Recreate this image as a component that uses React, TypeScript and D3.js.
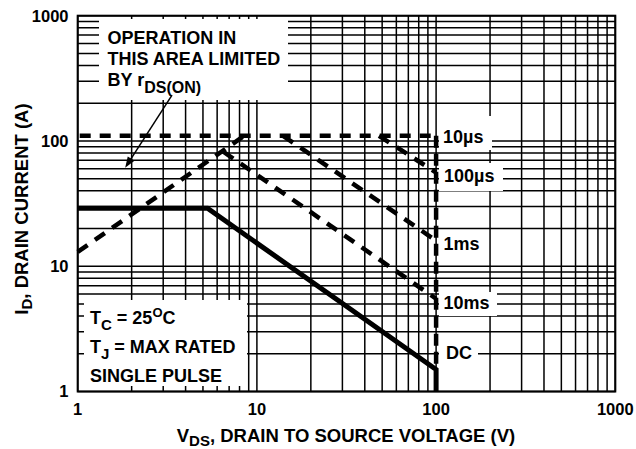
import React from 'react';
import * as d3 from 'd3';

// log-log SOA chart
const X_TICKS = [1, 10, 100, 1000];
const Y_TICKS = [1, 10, 100, 1000];

// [VDS (V), ID (A)]
const RDS_LIMIT: [number, number][] = [[1, 13], [8.5, 110]];
const PULSE_10US: [number, number][] = [[1, 110], [100, 110]];
const PULSE_100US: [number, number][] = [[48, 110], [100, 56]];
const PULSE_1MS: [number, number][] = [[14, 110], [100, 16]];
const PULSE_10MS: [number, number][] = [[6.5, 82], [100, 5.5]];
const BVDSS_DASHED: [number, number][] = [[100, 110], [100, 1.5]];
const DC_LINE: [number, number][] = [[1, 29], [5.3, 29], [100, 1.5], [100, 1]];

const CURVE_LABELS = ['10µs', '100µs', '1ms', '10ms', 'DC'];
const ARROW_FROM: [number, number] = [3.36, 232];
const ARROW_TO: [number, number] = [1.84, 61];

const W = 636;
const H = 449;
const FONT = '"Liberation Sans", Arial, Helvetica, sans-serif';

export default function App() {
  const x = d3.scaleLog().domain([1, 1000]).range([77.7, 615.3]);
  const y = d3.scaleLog().domain([1, 1000]).range([391.5, 15.7]);
  const gridX = x.ticks();
  const gridY = y.ticks();
  const line = d3.line<[number, number]>().x(d => x(d[0])).y(d => y(d[1]));

  // label boxes at the right of the 100 V line (layout only)
  const labelBoxes = [
    { tx: 443, ty: 142.5, x0: 439, x1: 492, y0: 116, y1: 150 },
    { tx: 444, ty: 182, x0: 439, x1: 503, y0: 163, y1: 191 },
    { tx: 443.5, ty: 250, x0: 439, x1: 482, y0: 233, y1: 257 },
    { tx: 443.5, ty: 309, x0: 439, x1: 497, y0: 292, y1: 316 },
    { tx: 446, ty: 358.5, x0: 439, x1: 478, y0: 342, y1: 365 },
  ];

  const a0 = [x(ARROW_FROM[0]), y(ARROW_FROM[1])];
  const a1 = [x(ARROW_TO[0]), y(ARROW_TO[1])];
  const ang = Math.atan2(a1[1] - a0[1], a1[0] - a0[0]);
  const hl = 11, hw = 4;
  const head = [
    [a1[0], a1[1]],
    [a1[0] - hl * Math.cos(ang) + hw * Math.sin(ang), a1[1] - hl * Math.sin(ang) - hw * Math.cos(ang)],
    [a1[0] - hl * Math.cos(ang) - hw * Math.sin(ang), a1[1] - hl * Math.sin(ang) + hw * Math.cos(ang)],
  ];

  return (
    <div style={{ position: 'absolute', left: 0, top: 0 }}>
      <svg width={W} height={H} viewBox={`0 0 ${W} ${H}`} style={{ display: 'block' }} fontFamily={FONT} fontWeight="bold">
        <rect width={W} height={H} fill="#fff" />

        {/* grid */}
        {gridX.map(v => (
          <line key={'gx' + v} x1={x(v)} x2={x(v)} y1={y(1)} y2={y(1000)} stroke="#000" strokeWidth={1.5} />
        ))}
        {gridY.map(v => (
          <line key={'gy' + v} x1={x(1)} x2={x(1000)} y1={y(v)} y2={y(v)} stroke="#000" strokeWidth={1.5} />
        ))}
        <rect x={x(1)} y={y(1000)} width={x(1000) - x(1)} height={y(1) - y(1000)} fill="none" stroke="#000" strokeWidth={2} />

        {/* note boxes */}
        <rect x={99} y={19} width={189} height={81} fill="#fff" />
        <rect x={84} y={300} width={163} height={86} fill="#fff" />

        <g fontSize={18} fill="#000">
          <text x={107.5} y={43.5}>OPERATION IN</text>
          <text x={107.5} y={65}>THIS AREA LIMITED</text>
          <text x={107.5} y={85.5}>
            BY r<tspan fontSize={16} dy={7}>DS(ON)</tspan>
          </text>
          <text x={90} y={324}>
            T<tspan fontSize={15} dy={6}>C</tspan>
            <tspan dy={-6}> = 25</tspan>
            <tspan fontSize={13} dy={-7}>O</tspan>
            <tspan dy={7}>C</tspan>
          </text>
          <text x={90} y={353}>
            T<tspan fontSize={15} dy={6}>J</tspan>
            <tspan dy={-6}> = MAX RATED</tspan>
          </text>
          <text x={90} y={382}>SINGLE PULSE</text>
        </g>

        {/* curves */}
        <g fill="none" stroke="#000" strokeLinecap="butt">
          <path d={line(PULSE_10US) || ''} strokeWidth={4.5} strokeDasharray="11 9" strokeDashoffset={-2} />
          <path d={line(RDS_LIMIT) || ''} strokeWidth={4.5} strokeDasharray="12 9" />
          <path d={line(PULSE_100US) || ''} strokeWidth={4.5} strokeDasharray="12 9" />
          <path d={line(PULSE_1MS) || ''} strokeWidth={4.5} strokeDasharray="12 9" />
          <path d={line(PULSE_10MS) || ''} strokeWidth={4.5} strokeDasharray="12 9" />
          <path d={line(BVDSS_DASHED) || ''} strokeWidth={4.5} strokeDasharray="12 6" />
          <path d={line(DC_LINE) || ''} strokeWidth={5} strokeLinejoin="miter" />
        </g>

        {/* arrow */}
        <line x1={a0[0]} y1={a0[1]} x2={a1[0] - 8 * Math.cos(ang)} y2={a1[1] - 8 * Math.sin(ang)} stroke="#000" strokeWidth={1.5} />
        <polygon points={head.map(p => p.join(',')).join(' ')} fill="#000" />

        {/* curve labels */}
        {CURVE_LABELS.map((t, i) => {
          const b = labelBoxes[i];
          return (
            <g key={t}>
              <rect x={b.x0} y={b.y0} width={b.x1 - b.x0} height={b.y1 - b.y0} fill="#fff" />
              <text x={b.tx} y={b.ty} fontSize={18}>{t}</text>
            </g>
          );
        })}

        {/* tick labels */}
        <g fontSize={16.5} fill="#000">
          {Y_TICKS.map(v => (
            <text key={'yt' + v} x={68.5} y={y(v)} dy="0.36em" textAnchor="end">{d3.format('d')(v)}</text>
          ))}
          {X_TICKS.map(v => (
            <text key={'xt' + v} x={x(v)} y={415} textAnchor="middle">{d3.format('d')(v)}</text>
          ))}
        </g>

        {/* axis titles */}
        <text x={346} y={441.5} fontSize={18.5} textAnchor="middle">
          V<tspan fontSize={15} dy={4}>DS</tspan>
          <tspan dy={-4}>, DRAIN TO SOURCE VOLTAGE (V)</tspan>
        </text>
        <text transform="translate(28,209) rotate(-90)" fontSize={18.5} textAnchor="middle">
          I<tspan fontSize={15} dy={4}>D</tspan>
          <tspan dy={-4}>, DRAIN CURRENT (A)</tspan>
        </text>
      </svg>
    </div>
  );
}
